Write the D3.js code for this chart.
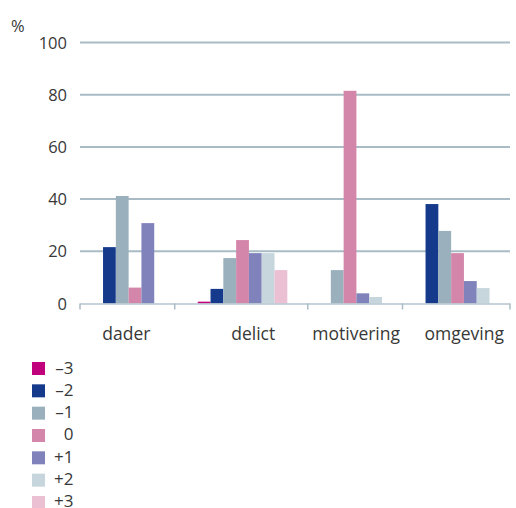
<!DOCTYPE html>
<html><head><meta charset="utf-8">
<script src="https://cdn.jsdelivr.net/npm/d3@7"></script>
<style>body{margin:0;background:#fff}svg{display:block}text{font-family:"Open Sans",sans-serif;fill:#383838}</style>
</head><body>
<svg id="c" width="516" height="508"></svg>
<script>
const categories = ["dader","delict","motivering","omgeving"];
const seriesLabels = ["\u20133","\u20132","\u20131","0","+1","+2","+3"];
const seriesColors = ["#c1007b","#153a8c","#9ab0bc","#d486aa","#8083bb","#c7d5dd","#ebc0d3"];
// values per series, across categories (null = no bar)
const sMin3 = [null, 0.7, null, null];
const sMin2 = [21.6, 5.6, null, 38.1];
const sMin1 = [41.2, 17.4, 12.8, 27.8];
const s0    = [6.1, 24.3, 81.5, 19.3];
const sPlus1 = [30.8, 19.3, 3.9, 8.6];
const sPlus2 = [null, 19.3, 2.5, 5.9];
const sPlus3 = [null, 12.8, null, null];
const yTicks = [0,20,40,60,80,100];

const series = [sMin3,sMin2,sMin1,s0,sPlus1,sPlus2,sPlus3];
const svg = d3.select("#c");
const mLeft = 80, mRight = 510, mTop = 42.5, mBottom = 303.5;
const GAP_L = 1.8, GAP_R = 1.6;
const LABEL_NUDGE = [-1, 12, 1, 8];

// category layout in "bar units"
const cats = categories.map((c,i)=>{
  const bars = series.map((s,k)=>({k, v:s[i]})).filter(d=>d.v!=null);
  return {name:c, bars, i};
});
let acc = 0;
cats.forEach(c=>{ c.start = acc; c.barStart = acc + GAP_L; acc += c.bars.length + GAP_L + GAP_R; c.end = acc; });
const x = d3.scaleLinear().domain([0, acc]).range([mLeft, mRight]);
const y = d3.scaleLinear().domain([0,100]).range([mBottom, mTop]);

// gridlines
svg.append("g").selectAll("line").data(yTicks.filter(t=>t>0)).join("line")
  .attr("x1", mLeft).attr("x2", mRight)
  .attr("y1", d=>y(d)).attr("y2", d=>y(d))
  .attr("stroke", "#a9bbc5").attr("stroke-width", 2);

// y labels
svg.append("g").selectAll("text").data(yTicks).join("text")
  .attr("x", 67).attr("y", d=>y(d)+6)
  .attr("text-anchor","end").attr("font-size", 16.5).text(d=>d);
svg.append("text").attr("x", 11).attr("y", 32).attr("font-size", 16.5).text("%");

// bars
const g = svg.append("g");
cats.forEach(c=>{
  c.bars.forEach((b,j)=>{
    g.append("rect")
      .attr("x", x(c.barStart + j)).attr("width", x(1)-x(0))
      .attr("y", y(b.v)).attr("height", y(0)-y(b.v))
      .attr("fill", seriesColors[b.k]);
  });
});

// baseline and ticks
svg.append("line").attr("x1", mLeft).attr("x2", mRight).attr("y1", y(0)+0.5).attr("y2", y(0)+0.5)
  .attr("stroke", "#b4c5ce").attr("stroke-width", 1.5);
const bounds = [0, ...cats.map(c=>c.end)];
svg.append("g").selectAll("line").data(bounds).join("line")
  .attr("x1", d=>x(d)).attr("x2", d=>x(d))
  .attr("y1", y(0)).attr("y2", y(0)+6)
  .attr("stroke", "#a9bbc5").attr("stroke-width", 1.5);

// category labels
svg.append("g").selectAll("text").data(cats).join("text")
  .attr("x", d=>x((d.start+d.end)/2) + LABEL_NUDGE[d.i]).attr("y", 339.5)
  .attr("text-anchor","middle").attr("font-size", 17.5).text(d=>d.name);

// legend
const lg = svg.append("g");
lg.selectAll("rect").data(seriesLabels).join("rect")
  .attr("x", 32).attr("y", (d,i)=>362 + i*22.33)
  .attr("width", 13).attr("height", 13).attr("fill", (d,i)=>seriesColors[i]);
lg.selectAll("text").data(seriesLabels).join("text")
  .attr("x", 73.5).attr("y", (d,i)=>374.3 + i*22.05)
  .attr("text-anchor","end").attr("font-size", 17).text(d=>d);
</script>
</body></html>
